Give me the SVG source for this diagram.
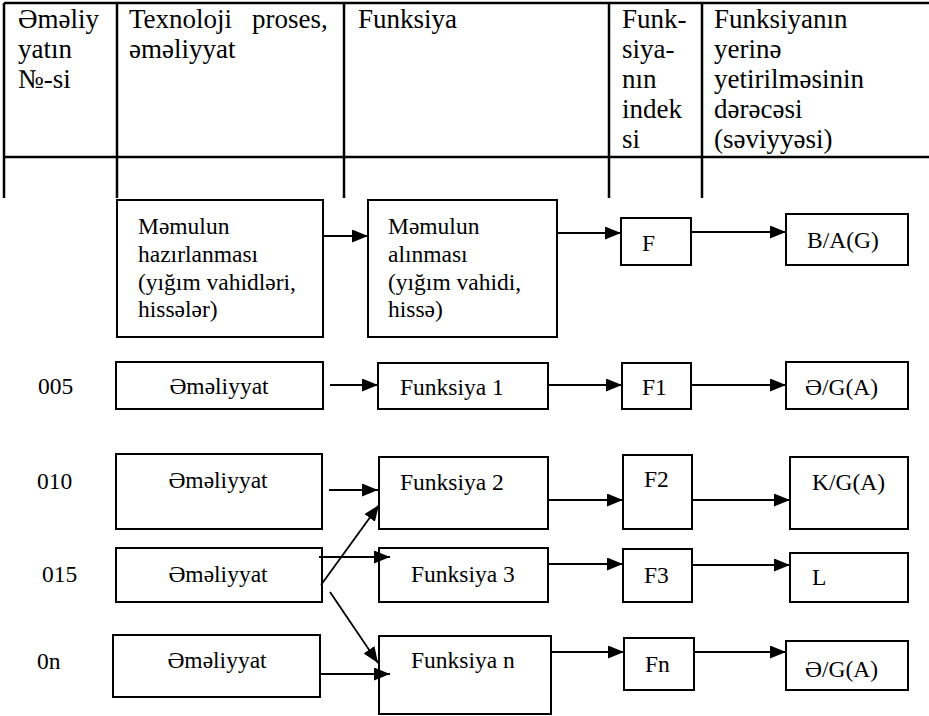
<svg xmlns="http://www.w3.org/2000/svg" width="929" height="716" viewBox="0 0 929 716">
  <style>
    text { font-family: "Liberation Serif", "DejaVu Serif", serif; fill: #000; }
    .hd { font-size: 27px; }
    .tx { font-size: 23.5px; }
    .grid { stroke: #000; stroke-width: 2.5; fill: none; }
    .box { fill: #fff; stroke: #000; stroke-width: 2; }
    .arr { stroke: #000; stroke-width: 1.8; fill: none; marker-end: url(#tip); }
    .mid { text-anchor: middle; }
  </style>
  <defs>
    <marker id="tip" markerUnits="userSpaceOnUse" markerWidth="17" markerHeight="14" refX="16" refY="6.5" orient="auto">
      <path d="M0,0 L16,6.5 L0,13 Z" fill="#000"/>
    </marker>
  </defs>

  <!-- header table -->
  <g id="table">
    <path class="grid" d="M4,3 H929 M4,157 H929 M4,3 V198 M117,3 V198 M344,3 V198 M609,3 V198 M702,3 V198"/>
    <text class="hd" x="18" y="28">Əməliy</text>
    <text class="hd" x="18" y="58">yatın</text>
    <text class="hd" x="18" y="88">№-si</text>
    <text class="hd" x="129" y="28">Texnoloji</text>
    <text class="hd" x="252" y="28">proses,</text>
    <text class="hd" x="129" y="58">əməliyyat</text>
    <text class="hd" x="358" y="28">Funksiya</text>
    <text class="hd" x="622" y="28">Funk-</text>
    <text class="hd" x="622" y="58">siya-</text>
    <text class="hd" x="622" y="88">nın</text>
    <text class="hd" x="622" y="118">indek</text>
    <text class="hd" x="622" y="148">si</text>
    <text class="hd" x="714" y="28">Funksiyanın</text>
    <text class="hd" x="714" y="58">yerinə</text>
    <text class="hd" x="714" y="88">yetirilməsinin</text>
    <text class="hd" x="714" y="118">dərəcəsi</text>
    <text class="hd" x="714" y="148">(səviyyəsi)</text>
  </g>

  <!-- row labels -->
  <g id="labels">
    <text class="tx" x="38" y="394">005</text>
    <text class="tx" x="37" y="489">010</text>
    <text class="tx" x="42" y="582">015</text>
    <text class="tx" x="37" y="669">0n</text>
  </g>

  <!-- product level -->
  <g id="prod-make">
    <rect class="box" x="117" y="200" width="206" height="137"/>
    <text class="tx" x="138" y="234">Məmulun</text>
    <text class="tx" x="138" y="262">hazırlanması</text>
    <text class="tx" x="138" y="290">(yığım vahidləri,</text>
    <text class="tx" x="138" y="317">hissələr)</text>
  </g>
  <g id="prod-get">
    <rect class="box" x="368" y="200" width="189" height="137"/>
    <text class="tx" x="388" y="234">Məmulun</text>
    <text class="tx" x="388" y="262">alınması</text>
    <text class="tx" x="388" y="290">(yığım vahidi,</text>
    <text class="tx" x="388" y="317">hissə)</text>
  </g>
  <g id="idx-f">
    <rect class="box" x="621" y="218" width="70" height="47"/>
    <text class="tx" x="642" y="251">F</text>
  </g>
  <g id="lvl-f">
    <rect class="box" x="786" y="214" width="122" height="51"/>
    <text class="tx" x="807" y="248">B/A(G)</text>
  </g>

  <!-- operation 005 -->
  <g id="op-005">
    <rect class="box" x="116" y="362" width="207" height="47"/>
    <text class="tx mid" x="219" y="394">Əməliyyat</text>
  </g>
  <g id="fn-1">
    <rect class="box" x="378" y="363" width="170" height="46"/>
    <text class="tx" x="400" y="395">Funksiya 1</text>
  </g>
  <g id="idx-f1">
    <rect class="box" x="622" y="363" width="69" height="46"/>
    <text class="tx" x="642" y="395">F1</text>
  </g>
  <g id="lvl-f1">
    <rect class="box" x="786" y="362" width="122" height="47"/>
    <text class="tx" x="805" y="395">Ə/G(A)</text>
  </g>

  <!-- operation 010 -->
  <g id="op-010">
    <rect class="box" x="116" y="454" width="206" height="75"/>
    <text class="tx mid" x="218" y="488">Əməliyyat</text>
  </g>
  <g id="fn-2">
    <rect class="box" x="379" y="457" width="169" height="72"/>
    <text class="tx" x="400" y="490">Funksiya 2</text>
  </g>
  <g id="idx-f2">
    <rect class="box" x="623" y="455" width="69" height="74"/>
    <text class="tx" x="644" y="487">F2</text>
  </g>
  <g id="lvl-f2">
    <rect class="box" x="790" y="457" width="118" height="72"/>
    <text class="tx" x="812" y="490">K/G(A)</text>
  </g>

  <!-- operation 015 -->
  <g id="op-015">
    <rect class="box" x="116" y="548" width="206" height="54"/>
    <text class="tx mid" x="218" y="582">Əməliyyat</text>
  </g>
  <g id="fn-3">
    <rect class="box" x="379" y="548" width="169" height="54"/>
    <text class="tx" x="411" y="582">Funksiya 3</text>
  </g>
  <g id="idx-f3">
    <rect class="box" x="623" y="549" width="69" height="53"/>
    <text class="tx" x="644" y="583">F3</text>
  </g>
  <g id="lvl-f3">
    <rect class="box" x="790" y="553" width="118" height="49"/>
    <text class="tx" x="812" y="585">L</text>
  </g>

  <!-- operation 0n -->
  <g id="op-0n">
    <rect class="box" x="113" y="635" width="207" height="62"/>
    <text class="tx mid" x="217" y="668">Əməliyyat</text>
  </g>
  <g id="fn-n">
    <rect class="box" x="379" y="636" width="172" height="78"/>
    <text class="tx" x="411" y="668">Funksiya n</text>
  </g>
  <g id="idx-fn">
    <rect class="box" x="624" y="638" width="70" height="52"/>
    <text class="tx" x="645" y="672">Fn</text>
  </g>
  <g id="lvl-fn">
    <rect class="box" x="786" y="641" width="122" height="49"/>
    <text class="tx" x="805" y="677">Ə/G(A)</text>
  </g>

  <!-- connectors -->
  <g id="connectors">
    <line class="arr" x1="323" y1="236" x2="368" y2="236"/>
    <line class="arr" x1="557" y1="233" x2="621" y2="233"/>
    <line class="arr" x1="691" y1="232" x2="786" y2="232"/>

    <line class="arr" x1="330" y1="385" x2="378" y2="385"/>
    <line class="arr" x1="548" y1="385" x2="622" y2="385"/>
    <line class="arr" x1="691" y1="385" x2="786" y2="385"/>

    <line class="arr" x1="329" y1="490" x2="378" y2="490"/>
    <line class="arr" x1="548" y1="500" x2="623" y2="500"/>
    <line class="arr" x1="692" y1="500" x2="790" y2="500"/>

    <line class="arr" x1="319" y1="557" x2="390" y2="557"/>
    <line class="arr" x1="321" y1="585" x2="379" y2="505"/>
    <line class="arr" x1="330" y1="592" x2="378" y2="663"/>
    <line class="arr" x1="548" y1="564" x2="623" y2="564"/>
    <line class="arr" x1="692" y1="565" x2="790" y2="565"/>

    <line class="arr" x1="320" y1="674" x2="390" y2="674"/>
    <line class="arr" x1="551" y1="652" x2="624" y2="652"/>
    <line class="arr" x1="694" y1="652" x2="786" y2="652"/>
  </g>
</svg>
